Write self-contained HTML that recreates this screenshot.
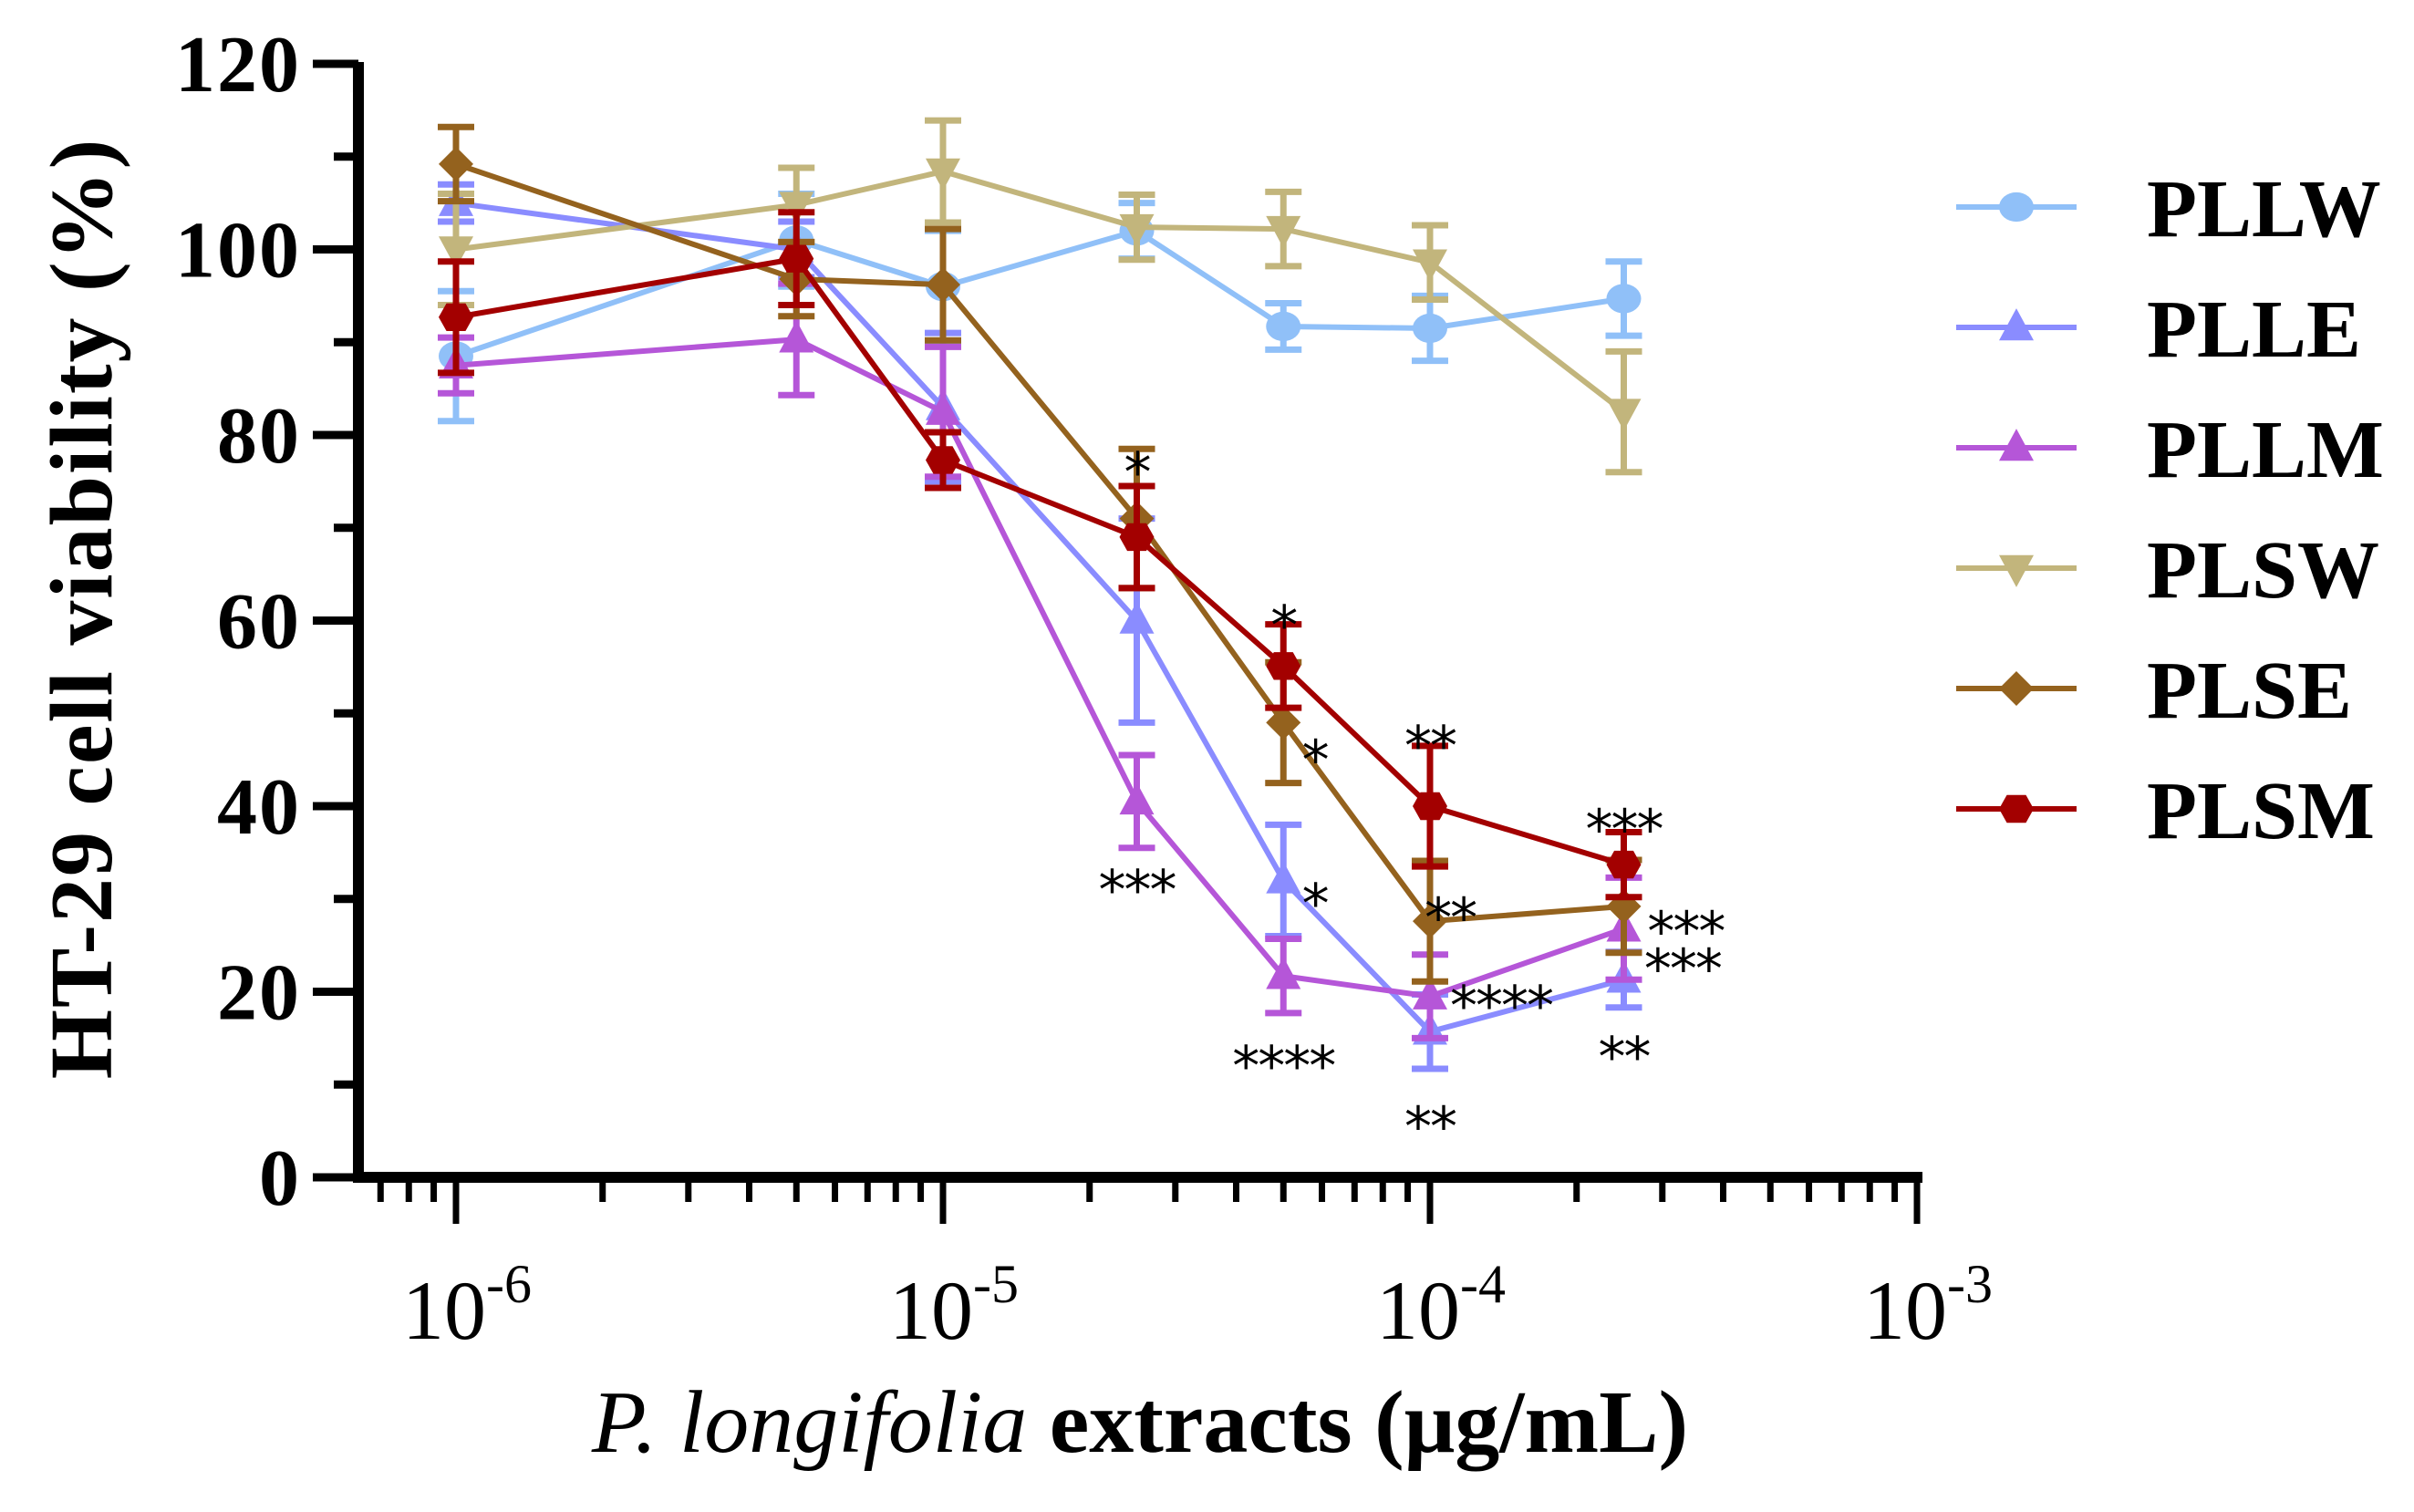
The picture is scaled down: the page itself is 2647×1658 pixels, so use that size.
<!DOCTYPE html>
<html><head><meta charset="utf-8"><style>
html,body{margin:0;padding:0;background:#fff;}
svg{display:block;}
</style></head><body>
<svg id="chart" width="2647" height="1658" viewBox="0 0 2647 1658" xmlns="http://www.w3.org/2000/svg">
<g id="axes"></g>
<g id="series"></g>
<g id="stars"></g>
<g id="legend"></g>
<text transform="translate(122,667) rotate(-90)" text-anchor="middle" font-family="Liberation Serif, serif" font-weight="bold" font-size="98" letter-spacing="2">HT-29 cell viability (%)</text>
<text x="1250" y="1592" text-anchor="middle" font-family="Liberation Serif, serif" font-size="98"><tspan font-style="italic">P. longifolia</tspan><tspan font-weight="bold"> extracts (μg/mL)</tspan></text>
</svg>
<script>
const concentrations = [1e-6, 5e-6, 1e-5, 2.5e-5, 5e-5, 1e-4, 2.5e-4];
const seriesNames = ["PLLW","PLLE","PLLM","PLSW","PLSE","PLSM"];
const seriesColors = ["#90c0f8","#8a8cff","#b556d8","#c2b57c","#94621e","#a30000"];
const seriesMarkers = ["circle","up","up","down","diamond","hex"];
const PLLW = [88.5, 101, 96, 102, 91.7, 91.5, 94.7];
const PLLW_err = [7, 5, 6, 3, 2.5, 3.5, 4];
const PLLE = [105, 100, 83, 60, 32, 15.7, 21.3];
const PLLE_err = [2, 3, 8, 11, 6, 4, 3];
const PLLM = [87.5, 90.3, 82.5, 40.5, 21.7, 19.5, 26.8];
const PLLM_err = [3, 6, 7, 5, 4, 4.5, 5.5];
const PLSW = [100, 104.8, 108.4, 102.4, 102.2, 98.6, 82.5];
const PLSW_err = [6, 4, 5.5, 3.5, 4, 4, 6.5];
const PLSE = [109.2, 96.8, 96.2, 71, 49, 27.6, 29.2];
const PLSE_err = [4, 4, 6, 7.5, 6.5, 6.5, 5];
const PLSM = [92.7, 99, 77.3, 69, 55.1, 40, 33.7];
const PLSM_err = [6, 5, 3, 5.5, 4.5, 6.5, 3.5];
const yTicks = [0, 20, 40, 60, 80, 100, 120];
const xDecades = [-6, -5, -4, -3];
const starLabels = ["*","***","*","*","*","****","**","**","****","**","***","***","***","**"];
const starConc = [2.5e-5,2.5e-5,5e-5,5.8e-5,5.8e-5,5e-5,1e-4,1.1e-4,1.4e-4,1e-4,2.5e-4,3.35e-4,3.3e-4,2.5e-4];
const starVal = [77.5,32.5,61,46.5,31,13.5,48,29.5,20,7,39,28,24,14.5];

const NS = "http://www.w3.org/2000/svg";
function X(c){ return 500 + 534*(Math.log10(c)+6); }
function Y(v){ return 1291 - v*(1221/120); }
function mk(tag, attrs, parent){ const e=document.createElementNS(NS,tag); for(const k in attrs) e.setAttribute(k,attrs[k]); parent.appendChild(e); return e; }

const axes=document.getElementById('axes');
let ax=mk('line',{x1:393,y1:Y(120)-2,x2:393,y2:1297,stroke:'#000','stroke-width':12},axes);


ax=mk('line',{x1:387,y1:1291,x2:2108,y2:1291,stroke:'#000','stroke-width':12},axes);


for(let i=0;i<=12;i++){
  const v=i*10, y=Y(v), major=(i%2===0);
  const t=mk('line',{x1:major?343:366,y1:y,x2:393,y2:y,stroke:'#000','stroke-width':9},axes);
  
  
}
yTicks.forEach(v=>{
  const t=mk('text',{x:330,y:Y(v)+30,'text-anchor':'end','font-family':'Liberation Serif, serif','font-weight':'bold','font-size':88,'letter-spacing':'2'},axes);
  t.textContent=v;
  
  
});
for(let d=-7; d<-3; d++){
  for(let m=1;m<10;m++){
    const c=m*Math.pow(10,d);
    if(c<7e-7) continue;
    const x=X(c);
    const major=(m===1);
    const t=mk('line',{x1:x,y1:1291,x2:x,y2:major?1342:1318,stroke:'#000','stroke-width':7},axes);
    
    
  }
}
const lt=mk('line',{x1:X(1e-3),y1:1291,x2:X(1e-3),y2:1342,stroke:'#000','stroke-width':7},axes);


xDecades.forEach(d=>{
  const t=mk('text',{x:X(Math.pow(10,d))+12,y:1468,'text-anchor':'middle','font-family':'Liberation Serif, serif','font-size':92},axes);
  t.innerHTML='10<tspan dy="-40" font-size="60">'+d+'</tspan>';
  
  
});

function marker(type,x,y,color,parent){
  const r=19; let e;
  if(type==='circle') e=mk('ellipse',{cx:x,cy:y,rx:r,ry:r*0.85,fill:color},parent);
  else if(type==='up') e=mk('polygon',{points:`${x},${y-r*1.1} ${x+r},${y+r*0.75} ${x-r},${y+r*0.75}`,fill:color},parent);
  else if(type==='down') e=mk('polygon',{points:`${x},${y+r*1.1} ${x+r},${y-r*0.75} ${x-r},${y-r*0.75}`,fill:color},parent);
  else if(type==='diamond') e=mk('polygon',{points:`${x},${y-r} ${x+r},${y} ${x},${y+r} ${x-r},${y}`,fill:color},parent);
  else e=mk('polygon',{points:`${x-r*0.55},${y-r*0.8} ${x+r*0.55},${y-r*0.8} ${x+r},${y} ${x+r*0.55},${y+r*0.8} ${x-r*0.55},${y+r*0.8} ${x-r},${y}`,fill:color},parent);
  return e;
}

const allVals=[PLLW,PLLE,PLLM,PLSW,PLSE,PLSM];
const allErr=[PLLW_err,PLLE_err,PLLM_err,PLSW_err,PLSE_err,PLSM_err];
const seriesG=document.getElementById('series');
allVals.forEach((vals,si)=>{
  const g=mk('g',{},seriesG);
  
  
  const col=seriesColors[si];
  vals.forEach((v,i)=>{
    const x=X(concentrations[i]), e=allErr[si][i];
    const eb=mk('path',{d:`M${x},${Y(v+e)}V${Y(v-e)}M${x-20},${Y(v+e)}H${x+20}M${x-20},${Y(v-e)}H${x+20}`,stroke:col,'stroke-width':7,fill:'none'},g);
    
    
  });
  const pts=vals.map((v,i)=>X(concentrations[i])+','+Y(v)).join(' ');
  const pl=mk('polyline',{points:pts,fill:'none',stroke:col,'stroke-width':6},g);
  
  
  vals.forEach((v,i)=>{
    const m=marker(seriesMarkers[si],X(concentrations[i]),Y(v),col,g);
    
    
  });
});

const starsG=document.getElementById('stars');
starLabels.forEach((s,i)=>{
  const t=mk('text',{x:X(starConc[i]),y:Y(starVal[i])+36,'text-anchor':'middle','font-family':'DejaVu Sans, sans-serif','font-size':60,'letter-spacing':'-2'},starsG);
  t.textContent=s;
  
  
});

const legend=document.getElementById('legend');
seriesNames.forEach((n,i)=>{
  const y=227+132*i, col=seriesColors[i];
  const g=mk('g',{},legend);
  
  
  mk('line',{x1:2145,y1:y,x2:2277,y2:y,stroke:col,'stroke-width':6},g);
  marker(seriesMarkers[i],2211,y,col,g);
  const t=mk('text',{x:2354,y:y+32,'font-family':'Liberation Serif, serif','font-weight':'bold','font-size':90},g);
  t.textContent=n;
});
</script>
</body></html>
